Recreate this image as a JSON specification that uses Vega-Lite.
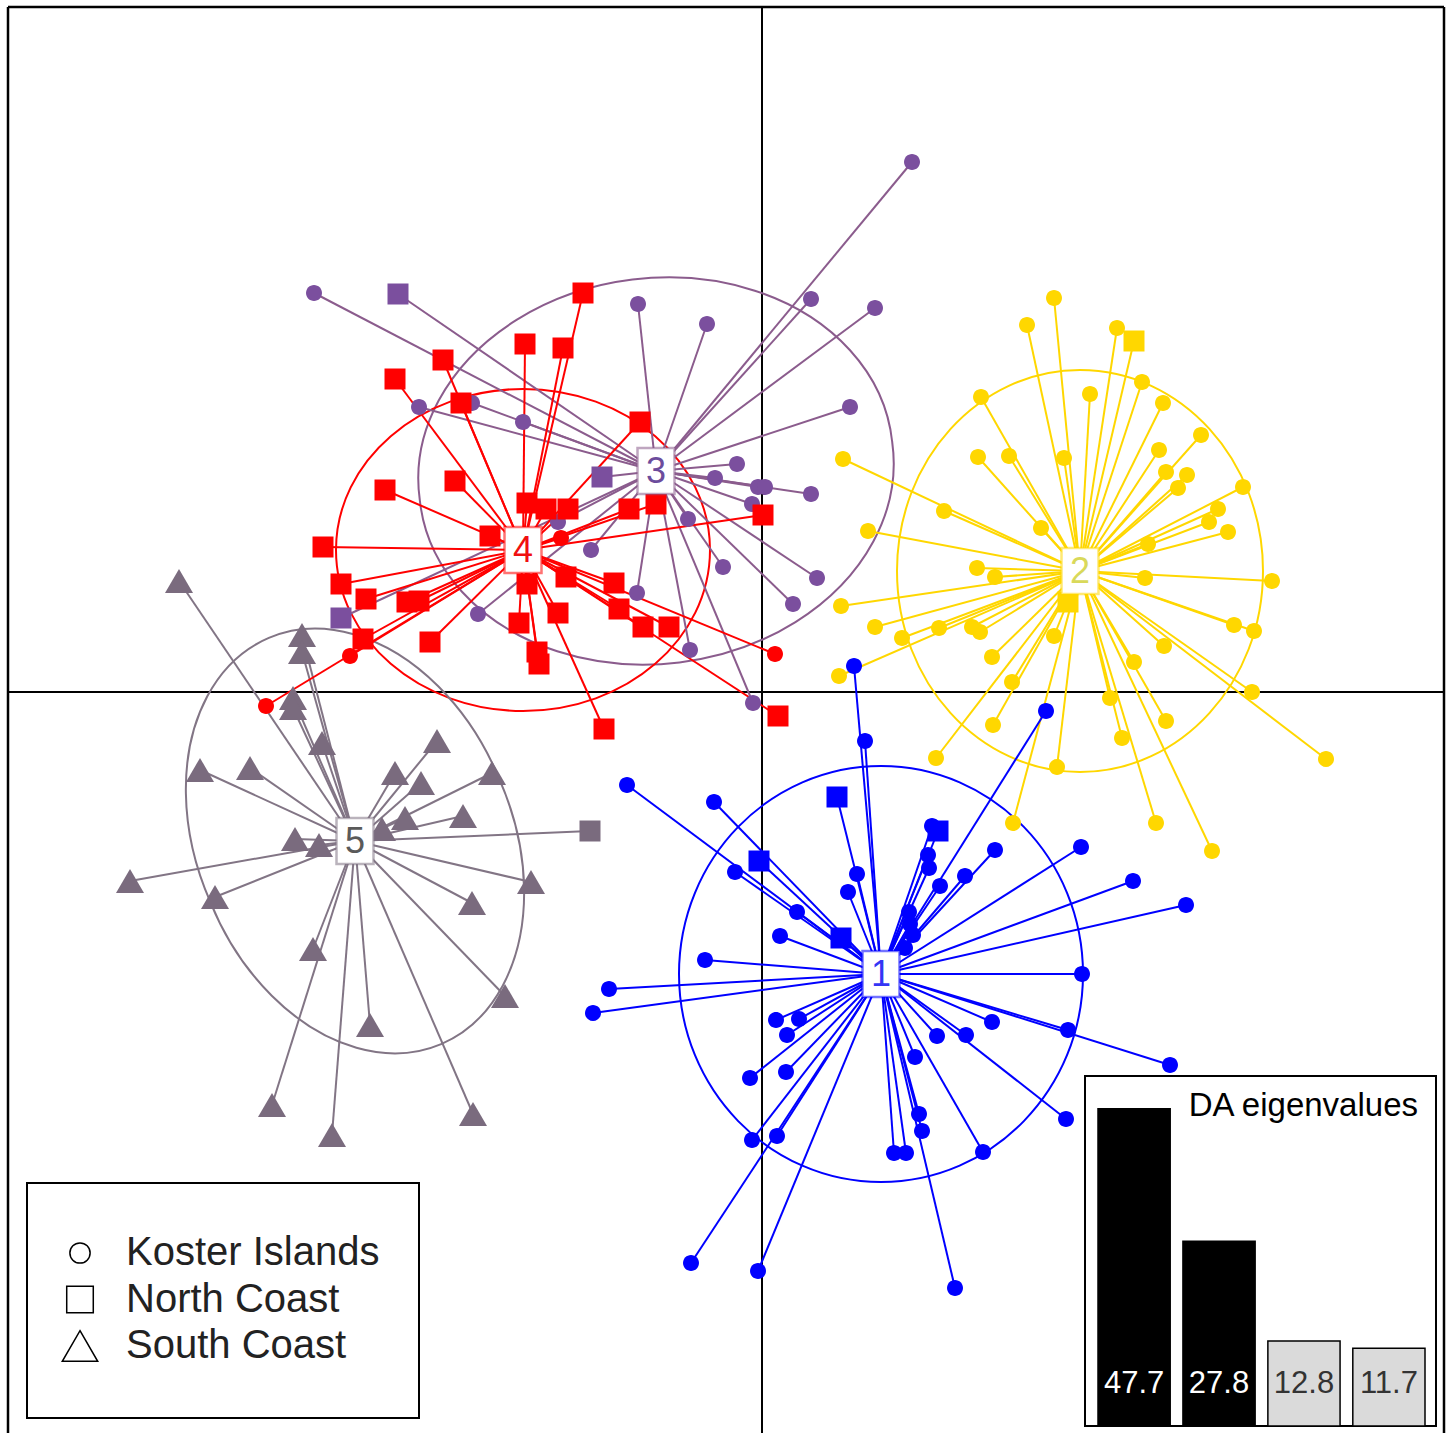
{
  "$schema": "https://vega.github.io/schema/vega-lite/v6.json",
  "width": 1436,
  "height": 1426,
  "autosize": "none",
  "padding": {"left": 8, "top": 7, "right": 6, "bottom": 0},
  "background": "white",
  "config": {"font": "Liberation Sans", "view": {"stroke": null}},
  "datasets": {
    "centroids": [
      {"cluster": 1, "x": 119, "y": -282},
      {"cluster": 2, "x": 318, "y": 121},
      {"cluster": 3, "x": -106, "y": 221},
      {"cluster": 4, "x": -239, "y": 142},
      {"cluster": 5, "x": -407, "y": -149}
    ],
    "eigen": [
      {"axis": 1, "eigenvalue": 47.7, "retained": true},
      {"axis": 2, "eigenvalue": 27.8, "retained": true},
      {"axis": 3, "eigenvalue": 12.8, "retained": false},
      {"axis": 4, "eigenvalue": 11.7, "retained": false}
    ],
    "individuals": [
      {"cluster": 2, "region": "Koster Islands", "x": 292, "y": 394},
      {"cluster": 2, "region": "Koster Islands", "x": 265, "y": 367},
      {"cluster": 2, "region": "Koster Islands", "x": 219, "y": 295},
      {"cluster": 2, "region": "Koster Islands", "x": 216, "y": 235},
      {"cluster": 2, "region": "Koster Islands", "x": 247, "y": 236},
      {"cluster": 2, "region": "Koster Islands", "x": 302, "y": 234},
      {"cluster": 2, "region": "Koster Islands", "x": 81, "y": 233},
      {"cluster": 2, "region": "Koster Islands", "x": 182, "y": 181},
      {"cluster": 2, "region": "Koster Islands", "x": 279, "y": 164},
      {"cluster": 2, "region": "Koster Islands", "x": 106, "y": 161},
      {"cluster": 2, "region": "Koster Islands", "x": 215, "y": 124},
      {"cluster": 2, "region": "Koster Islands", "x": 233, "y": 115},
      {"cluster": 2, "region": "Koster Islands", "x": 79, "y": 86},
      {"cluster": 2, "region": "Koster Islands", "x": 113, "y": 65},
      {"cluster": 2, "region": "Koster Islands", "x": 140, "y": 54},
      {"cluster": 2, "region": "Koster Islands", "x": 177, "y": 64},
      {"cluster": 2, "region": "Koster Islands", "x": 210, "y": 65},
      {"cluster": 2, "region": "Koster Islands", "x": 218, "y": 60},
      {"cluster": 2, "region": "Koster Islands", "x": 292, "y": 56},
      {"cluster": 2, "region": "Koster Islands", "x": 230, "y": 35},
      {"cluster": 2, "region": "Koster Islands", "x": 250, "y": 10},
      {"cluster": 2, "region": "Koster Islands", "x": 77, "y": 16},
      {"cluster": 2, "region": "Koster Islands", "x": 231, "y": -33},
      {"cluster": 2, "region": "Koster Islands", "x": 174, "y": -66},
      {"cluster": 2, "region": "Koster Islands", "x": 295, "y": -75},
      {"cluster": 2, "region": "Koster Islands", "x": 251, "y": -131},
      {"cluster": 2, "region": "Koster Islands", "x": 355, "y": 364},
      {"cluster": 2, "region": "Koster Islands", "x": 328, "y": 298},
      {"cluster": 2, "region": "Koster Islands", "x": 380, "y": 310},
      {"cluster": 2, "region": "Koster Islands", "x": 401, "y": 289},
      {"cluster": 2, "region": "Koster Islands", "x": 439, "y": 257},
      {"cluster": 2, "region": "Koster Islands", "x": 397, "y": 242},
      {"cluster": 2, "region": "Koster Islands", "x": 404, "y": 220},
      {"cluster": 2, "region": "Koster Islands", "x": 425, "y": 217},
      {"cluster": 2, "region": "Koster Islands", "x": 416, "y": 204},
      {"cluster": 2, "region": "Koster Islands", "x": 481, "y": 205},
      {"cluster": 2, "region": "Koster Islands", "x": 456, "y": 183},
      {"cluster": 2, "region": "Koster Islands", "x": 447, "y": 170},
      {"cluster": 2, "region": "Koster Islands", "x": 466, "y": 160},
      {"cluster": 2, "region": "Koster Islands", "x": 386, "y": 148},
      {"cluster": 2, "region": "Koster Islands", "x": 383, "y": 114},
      {"cluster": 2, "region": "Koster Islands", "x": 510, "y": 111},
      {"cluster": 2, "region": "Koster Islands", "x": 472, "y": 67},
      {"cluster": 2, "region": "Koster Islands", "x": 492, "y": 61},
      {"cluster": 2, "region": "Koster Islands", "x": 402, "y": 46},
      {"cluster": 2, "region": "Koster Islands", "x": 372, "y": 30},
      {"cluster": 2, "region": "Koster Islands", "x": 490, "y": 0},
      {"cluster": 2, "region": "Koster Islands", "x": 348, "y": -6},
      {"cluster": 2, "region": "Koster Islands", "x": 404, "y": -29},
      {"cluster": 2, "region": "Koster Islands", "x": 360, "y": -46},
      {"cluster": 2, "region": "Koster Islands", "x": 564, "y": -67},
      {"cluster": 2, "region": "Koster Islands", "x": 394, "y": -131},
      {"cluster": 2, "region": "Koster Islands", "x": 450, "y": -159},
      {"cluster": 2, "region": "North Coast", "x": 372, "y": 351},
      {"cluster": 2, "region": "North Coast", "x": 306, "y": 90},

      {"cluster": 1, "region": "Koster Islands", "x": 92, "y": 26},
      {"cluster": 1, "region": "Koster Islands", "x": 103, "y": -49},
      {"cluster": 1, "region": "Koster Islands", "x": -135, "y": -93},
      {"cluster": 1, "region": "Koster Islands", "x": -48, "y": -110},
      {"cluster": 1, "region": "Koster Islands", "x": -27, "y": -180},
      {"cluster": 1, "region": "Koster Islands", "x": 95, "y": -182},
      {"cluster": 1, "region": "Koster Islands", "x": 86, "y": -200},
      {"cluster": 1, "region": "Koster Islands", "x": 35, "y": -220},
      {"cluster": 1, "region": "Koster Islands", "x": 18, "y": -244},
      {"cluster": 1, "region": "Koster Islands", "x": -57, "y": -268},
      {"cluster": 1, "region": "Koster Islands", "x": -153, "y": -297},
      {"cluster": 1, "region": "Koster Islands", "x": -169, "y": -321},
      {"cluster": 1, "region": "Koster Islands", "x": 14, "y": -328},
      {"cluster": 1, "region": "Koster Islands", "x": 37, "y": -327},
      {"cluster": 1, "region": "Koster Islands", "x": 25, "y": -343},
      {"cluster": 1, "region": "Koster Islands", "x": -12, "y": -386},
      {"cluster": 1, "region": "Koster Islands", "x": 24, "y": -380},
      {"cluster": 1, "region": "Koster Islands", "x": -10, "y": -448},
      {"cluster": 1, "region": "Koster Islands", "x": 15, "y": -444},
      {"cluster": 1, "region": "Koster Islands", "x": -71, "y": -571},
      {"cluster": 1, "region": "Koster Islands", "x": -4, "y": -579},
      {"cluster": 1, "region": "Koster Islands", "x": 132, "y": -461},
      {"cluster": 1, "region": "Koster Islands", "x": 284, "y": -19},
      {"cluster": 1, "region": "Koster Islands", "x": 170, "y": -134},
      {"cluster": 1, "region": "Koster Islands", "x": 166, "y": -163},
      {"cluster": 1, "region": "Koster Islands", "x": 167, "y": -176},
      {"cluster": 1, "region": "Koster Islands", "x": 233, "y": -158},
      {"cluster": 1, "region": "Koster Islands", "x": 178, "y": -194},
      {"cluster": 1, "region": "Koster Islands", "x": 203, "y": -184},
      {"cluster": 1, "region": "Koster Islands", "x": 147, "y": -220},
      {"cluster": 1, "region": "Koster Islands", "x": 148, "y": -232},
      {"cluster": 1, "region": "Koster Islands", "x": 151, "y": -243},
      {"cluster": 1, "region": "Koster Islands", "x": 143, "y": -256},
      {"cluster": 1, "region": "Koster Islands", "x": 319, "y": -155},
      {"cluster": 1, "region": "Koster Islands", "x": 371, "y": -189},
      {"cluster": 1, "region": "Koster Islands", "x": 424, "y": -213},
      {"cluster": 1, "region": "Koster Islands", "x": 320, "y": -282},
      {"cluster": 1, "region": "Koster Islands", "x": 306, "y": -338},
      {"cluster": 1, "region": "Koster Islands", "x": 408, "y": -373},
      {"cluster": 1, "region": "Koster Islands", "x": 230, "y": -330},
      {"cluster": 1, "region": "Koster Islands", "x": 204, "y": -343},
      {"cluster": 1, "region": "Koster Islands", "x": 175, "y": -344},
      {"cluster": 1, "region": "Koster Islands", "x": 153, "y": -365},
      {"cluster": 1, "region": "Koster Islands", "x": 157, "y": -422},
      {"cluster": 1, "region": "Koster Islands", "x": 160, "y": -439},
      {"cluster": 1, "region": "Koster Islands", "x": 304, "y": -427},
      {"cluster": 1, "region": "Koster Islands", "x": 221, "y": -460},
      {"cluster": 1, "region": "Koster Islands", "x": 144, "y": -461},
      {"cluster": 1, "region": "Koster Islands", "x": 193, "y": -596},
      {"cluster": 1, "region": "North Coast", "x": 75, "y": -105},
      {"cluster": 1, "region": "North Coast", "x": -3, "y": -169},
      {"cluster": 1, "region": "North Coast", "x": 79, "y": -246},
      {"cluster": 1, "region": "North Coast", "x": 176, "y": -139},

      {"cluster": 5, "region": "South Coast", "x": -583, "y": 111},
      {"cluster": 5, "region": "South Coast", "x": -460, "y": 57},
      {"cluster": 5, "region": "South Coast", "x": -460, "y": 40},
      {"cluster": 5, "region": "South Coast", "x": -469, "y": -6},
      {"cluster": 5, "region": "South Coast", "x": -469, "y": -16},
      {"cluster": 5, "region": "South Coast", "x": -440, "y": -51},
      {"cluster": 5, "region": "South Coast", "x": -325, "y": -49},
      {"cluster": 5, "region": "South Coast", "x": -562, "y": -78},
      {"cluster": 5, "region": "South Coast", "x": -512, "y": -76},
      {"cluster": 5, "region": "South Coast", "x": -367, "y": -81},
      {"cluster": 5, "region": "South Coast", "x": -341, "y": -91},
      {"cluster": 5, "region": "South Coast", "x": -270, "y": -81},
      {"cluster": 5, "region": "South Coast", "x": -357, "y": -126},
      {"cluster": 5, "region": "South Coast", "x": -299, "y": -124},
      {"cluster": 5, "region": "South Coast", "x": -380, "y": -137},
      {"cluster": 5, "region": "South Coast", "x": -467, "y": -147},
      {"cluster": 5, "region": "South Coast", "x": -443, "y": -153},
      {"cluster": 5, "region": "South Coast", "x": -632, "y": -189},
      {"cluster": 5, "region": "South Coast", "x": -547, "y": -205},
      {"cluster": 5, "region": "South Coast", "x": -231, "y": -190},
      {"cluster": 5, "region": "South Coast", "x": -290, "y": -211},
      {"cluster": 5, "region": "South Coast", "x": -449, "y": -257},
      {"cluster": 5, "region": "South Coast", "x": -257, "y": -304},
      {"cluster": 5, "region": "South Coast", "x": -392, "y": -333},
      {"cluster": 5, "region": "South Coast", "x": -490, "y": -413},
      {"cluster": 5, "region": "South Coast", "x": -430, "y": -443},
      {"cluster": 5, "region": "South Coast", "x": -289, "y": -422},
      {"cluster": 5, "region": "North Coast", "x": -172, "y": -139},

      {"cluster": 3, "region": "Koster Islands", "x": -448, "y": 399},
      {"cluster": 3, "region": "Koster Islands", "x": -124, "y": 388},
      {"cluster": 3, "region": "Koster Islands", "x": -55, "y": 368},
      {"cluster": 3, "region": "Koster Islands", "x": -343, "y": 285},
      {"cluster": 3, "region": "Koster Islands", "x": -290, "y": 289},
      {"cluster": 3, "region": "Koster Islands", "x": -239, "y": 270},
      {"cluster": 3, "region": "Koster Islands", "x": -204, "y": 170},
      {"cluster": 3, "region": "Koster Islands", "x": -74, "y": 173},
      {"cluster": 3, "region": "Koster Islands", "x": -171, "y": 142},
      {"cluster": 3, "region": "Koster Islands", "x": -125, "y": 99},
      {"cluster": 3, "region": "Koster Islands", "x": -284, "y": 78},
      {"cluster": 3, "region": "Koster Islands", "x": -72, "y": 42},
      {"cluster": 3, "region": "Koster Islands", "x": 150, "y": 530},
      {"cluster": 3, "region": "Koster Islands", "x": 49, "y": 393},
      {"cluster": 3, "region": "Koster Islands", "x": 113, "y": 384},
      {"cluster": 3, "region": "Koster Islands", "x": 88, "y": 285},
      {"cluster": 3, "region": "Koster Islands", "x": -25, "y": 228},
      {"cluster": 3, "region": "Koster Islands", "x": -47, "y": 214},
      {"cluster": 3, "region": "Koster Islands", "x": -4, "y": 205},
      {"cluster": 3, "region": "Koster Islands", "x": 3, "y": 205},
      {"cluster": 3, "region": "Koster Islands", "x": 49, "y": 198},
      {"cluster": 3, "region": "Koster Islands", "x": -10, "y": 188},
      {"cluster": 3, "region": "Koster Islands", "x": -39, "y": 125},
      {"cluster": 3, "region": "Koster Islands", "x": 55, "y": 114},
      {"cluster": 3, "region": "Koster Islands", "x": 31, "y": 88},
      {"cluster": 3, "region": "Koster Islands", "x": -9, "y": -11},
      {"cluster": 3, "region": "North Coast", "x": -364, "y": 398},
      {"cluster": 3, "region": "North Coast", "x": -160, "y": 215},
      {"cluster": 3, "region": "North Coast", "x": -421, "y": 74},

      {"cluster": 4, "region": "North Coast", "x": -179, "y": 399},
      {"cluster": 4, "region": "North Coast", "x": -237, "y": 348},
      {"cluster": 4, "region": "North Coast", "x": -199, "y": 344},
      {"cluster": 4, "region": "North Coast", "x": -319, "y": 332},
      {"cluster": 4, "region": "North Coast", "x": -367, "y": 313},
      {"cluster": 4, "region": "North Coast", "x": -301, "y": 289},
      {"cluster": 4, "region": "North Coast", "x": -122, "y": 270},
      {"cluster": 4, "region": "North Coast", "x": -377, "y": 202},
      {"cluster": 4, "region": "North Coast", "x": -307, "y": 211},
      {"cluster": 4, "region": "North Coast", "x": -235, "y": 189},
      {"cluster": 4, "region": "North Coast", "x": -216, "y": 183},
      {"cluster": 4, "region": "North Coast", "x": -194, "y": 183},
      {"cluster": 4, "region": "North Coast", "x": -133, "y": 183},
      {"cluster": 4, "region": "North Coast", "x": -106, "y": 188},
      {"cluster": 4, "region": "North Coast", "x": -272, "y": 156},
      {"cluster": 4, "region": "North Coast", "x": -439, "y": 145},
      {"cluster": 4, "region": "North Coast", "x": -421, "y": 108},
      {"cluster": 4, "region": "North Coast", "x": -235, "y": 108},
      {"cluster": 4, "region": "North Coast", "x": -196, "y": 115},
      {"cluster": 4, "region": "North Coast", "x": -148, "y": 109},
      {"cluster": 4, "region": "North Coast", "x": -396, "y": 93},
      {"cluster": 4, "region": "North Coast", "x": -355, "y": 90},
      {"cluster": 4, "region": "North Coast", "x": -343, "y": 91},
      {"cluster": 4, "region": "North Coast", "x": -143, "y": 83},
      {"cluster": 4, "region": "North Coast", "x": -243, "y": 69},
      {"cluster": 4, "region": "North Coast", "x": -204, "y": 79},
      {"cluster": 4, "region": "North Coast", "x": -119, "y": 65},
      {"cluster": 4, "region": "North Coast", "x": -93, "y": 65},
      {"cluster": 4, "region": "North Coast", "x": -399, "y": 53},
      {"cluster": 4, "region": "North Coast", "x": -332, "y": 50},
      {"cluster": 4, "region": "North Coast", "x": -225, "y": 40},
      {"cluster": 4, "region": "North Coast", "x": -223, "y": 28},
      {"cluster": 4, "region": "North Coast", "x": 1, "y": 177},
      {"cluster": 4, "region": "North Coast", "x": -158, "y": -37},
      {"cluster": 4, "region": "North Coast", "x": 16, "y": -24},
      {"cluster": 4, "region": "Koster Islands", "x": -201, "y": 154},
      {"cluster": 4, "region": "Koster Islands", "x": -412, "y": 36},
      {"cluster": 4, "region": "Koster Islands", "x": -496, "y": -14},
      {"cluster": 4, "region": "Koster Islands", "x": 13, "y": 38}
    ]
  },
  "layer": [
    {
      "resolve": {"scale": {"shape": "independent"}},
      "layer": [
        {
          "data": {"values": [{}]},
          "mark": {"type": "rule", "color": "black", "strokeWidth": 2.5},
          "encoding": {"x": {"datum": -754, "type": "quantitative", "scale": {"domain": [-754, 682], "nice": false, "zero": false}, "axis": null}}
        },
        {
          "data": {"values": [{}]},
          "mark": {"type": "rule", "color": "black", "strokeWidth": 2.5},
          "encoding": {"x": {"datum": 682, "type": "quantitative", "scale": {"domain": [-754, 682], "nice": false, "zero": false}, "axis": null}}
        },
        {
          "data": {"values": [{}]},
          "mark": {"type": "rule", "color": "black", "strokeWidth": 2.5},
          "encoding": {"y": {"datum": 685, "type": "quantitative", "scale": {"domain": [-741, 685], "nice": false, "zero": false}, "axis": null}}
        },
        {
          "data": {"values": [{}]},
          "mark": {"type": "rule", "color": "black", "strokeWidth": 2},
          "encoding": {"x": {"datum": 0, "type": "quantitative", "scale": {"domain": [-754, 682], "nice": false, "zero": false}, "axis": null}}
        },
        {
          "data": {"values": [{}]},
          "mark": {"type": "rule", "color": "black", "strokeWidth": 2},
          "encoding": {"y": {"datum": 0, "type": "quantitative", "scale": {"domain": [-741, 685], "nice": false, "zero": false}, "axis": null}}
        },
        {
          "data": {"name": "centroids"},
          "mark": {"type": "point", "filled": false, "size": 4, "strokeWidth": 2, "opacity": 1},
          "encoding": {
            "x": {"field": "x", "type": "quantitative", "scale": {"domain": [-754, 682], "nice": false, "zero": false}, "axis": null},
            "y": {"field": "y", "type": "quantitative", "scale": {"domain": [-741, 685], "nice": false, "zero": false}, "axis": null},
            "shape": {
              "field": "cluster", "type": "nominal", "legend": null,
              "scale": {
                "domain": [1, 2, 3, 4, 5],
                "range": [
                  "M -202 0 A 202 208 0 1 0 202 0 A 202 208 0 1 0 -202 0 Z",
                  "M -183 0 A 183 201 0 1 0 183 0 A 183 201 0 1 0 -183 0 Z",
                  "M -236.2 29 A 238 190 -7 1 0 236.2 -29 A 238 190 -7 1 0 -236.2 29 Z",
                  "M -187 0 A 187 161 0 1 0 187 0 A 187 161 0 1 0 -187 0 Z",
                  "M -144.5 61.3 A 157 216 -23 1 0 144.5 -61.3 A 157 216 -23 1 0 -144.5 61.3 Z"
                ]
              }
            },
            "stroke": {"field": "cluster", "type": "nominal", "legend": null, "scale": {"domain": [1, 2, 3, 4, 5], "range": ["#0000FF", "#FFD700", "#8B5C8D", "#FF0000", "#827585"]}}
          }
        },
        {
          "data": {"name": "individuals"},
          "transform": [
            {"lookup": "cluster", "from": {"data": {"name": "centroids"}, "key": "cluster", "fields": ["x", "y"]}, "as": ["cx", "cy"]}
          ],
          "mark": {"type": "rule", "strokeWidth": 2},
          "encoding": {
            "x": {"field": "x", "type": "quantitative", "scale": {"domain": [-754, 682], "nice": false, "zero": false}, "axis": null},
            "y": {"field": "y", "type": "quantitative", "scale": {"domain": [-741, 685], "nice": false, "zero": false}, "axis": null},
            "x2": {"field": "cx"},
            "y2": {"field": "cy"},
            "stroke": {"field": "cluster", "type": "nominal", "legend": null, "scale": {"domain": [1, 2, 3, 4, 5], "range": ["#0000FF", "#FFD700", "#8B5C8D", "#FF0000", "#827585"]}}
          }
        },
        {
          "data": {"name": "individuals"},
          "mark": {"type": "point", "filled": true, "size": 100, "strokeWidth": 0, "opacity": 1},
          "encoding": {
            "x": {"field": "x", "type": "quantitative", "scale": {"domain": [-754, 682], "nice": false, "zero": false}, "axis": null},
            "y": {"field": "y", "type": "quantitative", "scale": {"domain": [-741, 685], "nice": false, "zero": false}, "axis": null},
            "fill": {"field": "cluster", "type": "nominal", "legend": null, "scale": {"domain": [1, 2, 3, 4, 5], "range": ["#0000FF", "#FFD700", "#7B4F9E", "#FF0000", "#7A6B7E"]}},
            "shape": {
              "field": "region", "type": "nominal",
              "scale": {
                "domain": ["Koster Islands", "North Coast", "South Coast"],
                "range": [
                  "M 1.6 0 A 1.6 1.6 0 1 1 -1.6 0 A 1.6 1.6 0 1 1 1.6 0 Z",
                  "M -2.1 -2.1 L 2.1 -2.1 L 2.1 2.1 L -2.1 2.1 Z",
                  "M 0 -2.42 L 2.8 2.42 L -2.8 2.42 Z"
                ]
              },
              "legend": {
                "orient": "none", "legendX": 52, "legendY": 1226, "title": null, "padding": 0,
                "symbolSize": 160, "labelFontSize": 40, "labelColor": "#222222", "labelOffset": 26, "labelLimit": 0, "rowPadding": 6.5,
                "symbolStrokeWidth": 1.5, "symbolStrokeColor": "black", "symbolFillColor": "transparent",
                "encode": {"symbols": {"update": {"fill": {"value": "transparent"}, "stroke": {"value": "black"}, "strokeWidth": {"value": 1.5}, "opacity": {"value": 1}}}}
              }
            }
          }
        },
        {
          "data": {"name": "centroids"},
          "mark": {"type": "point", "shape": "M -18.5 -23 L 18.5 -23 L 18.5 23 L -18.5 23 Z", "size": 4, "filled": true, "fill": "white", "strokeWidth": 2.5, "strokeOpacity": 0.55, "opacity": 1},
          "encoding": {
            "x": {"field": "x", "type": "quantitative", "scale": {"domain": [-754, 682], "nice": false, "zero": false}, "axis": null},
            "y": {"field": "y", "type": "quantitative", "scale": {"domain": [-741, 685], "nice": false, "zero": false}, "axis": null},
            "stroke": {"field": "cluster", "type": "nominal", "legend": null, "scale": {"domain": [1, 2, 3, 4, 5], "range": ["#0000FF", "#FFD700", "#8B5C8D", "#FF0000", "#827585"]}}
          }
        },
        {
          "data": {"name": "centroids"},
          "mark": {"type": "text", "fontSize": 36, "align": "center", "baseline": "middle", "dy": 1},
          "encoding": {
            "x": {"field": "x", "type": "quantitative", "scale": {"domain": [-754, 682], "nice": false, "zero": false}, "axis": null},
            "y": {"field": "y", "type": "quantitative", "scale": {"domain": [-741, 685], "nice": false, "zero": false}, "axis": null},
            "text": {"field": "cluster", "type": "nominal"},
            "color": {"field": "cluster", "type": "nominal", "legend": null, "scale": {"domain": [1, 2, 3, 4, 5], "range": ["#3535F5", "#D9D95A", "#6C4C9C", "#F01010", "#5A5A5A"]}}
          }
        },
        {
          "data": {"values": [{}]},
          "mark": {"type": "rect", "fill": "white", "stroke": "black", "strokeWidth": 2},
          "encoding": {
            "x": {"datum": -735, "type": "quantitative", "scale": {"domain": [-754, 682], "nice": false, "zero": false}, "axis": null},
            "x2": {"datum": -343},
            "y": {"datum": -491, "type": "quantitative", "scale": {"domain": [-741, 685], "nice": false, "zero": false}, "axis": null},
            "y2": {"datum": -726}
          }
        },
        {
          "data": {"values": [{}]},
          "mark": {"type": "rect", "fill": "white", "stroke": "black", "strokeWidth": 2},
          "encoding": {
            "x": {"datum": 323, "type": "quantitative", "scale": {"domain": [-754, 682], "nice": false, "zero": false}, "axis": null},
            "x2": {"datum": 674},
            "y": {"datum": -384, "type": "quantitative", "scale": {"domain": [-741, 685], "nice": false, "zero": false}, "axis": null},
            "y2": {"datum": -734}
          }
        },
        {
          "data": {"values": [{}]},
          "mark": {"type": "text", "text": "DA eigenvalues", "fontSize": 33, "align": "right", "baseline": "alphabetic", "color": "black"},
          "encoding": {
            "x": {"datum": 656, "type": "quantitative", "scale": {"domain": [-754, 682], "nice": false, "zero": false}, "axis": null},
            "y": {"datum": -424, "type": "quantitative", "scale": {"domain": [-741, 685], "nice": false, "zero": false}, "axis": null}
          }
        }
      ]
    },
    {
      "data": {"name": "eigen"},
      "encoding": {
        "x": {"field": "axis", "type": "ordinal", "scale": {"range": [1090, 1417], "paddingInner": 0.15, "paddingOuter": 0}, "axis": null}
      },
      "layer": [
        {
          "mark": {"type": "bar", "stroke": "black", "strokeWidth": 1.5},
          "encoding": {
            "y": {"field": "eigenvalue", "type": "quantitative", "scale": {"domain": [0, 50], "range": [1419, 1086.5], "nice": false}, "axis": null},
            "fill": {"condition": {"test": "datum.retained", "value": "black"}, "value": "#DADADA"}
          }
        },
        {
          "mark": {"type": "text", "fontSize": 31, "align": "center", "baseline": "alphabetic", "dy": -33},
          "encoding": {
            "y": {"datum": 0, "type": "quantitative", "scale": {"domain": [0, 50], "range": [1419, 1086.5], "nice": false}, "axis": null},
            "text": {"field": "eigenvalue", "type": "quantitative", "format": ".1f"},
            "color": {"condition": {"test": "datum.retained", "value": "white"}, "value": "#333333"}
          }
        }
      ]
    }
  ],
  "resolve": {"scale": {"x": "independent", "y": "independent"}}
}
